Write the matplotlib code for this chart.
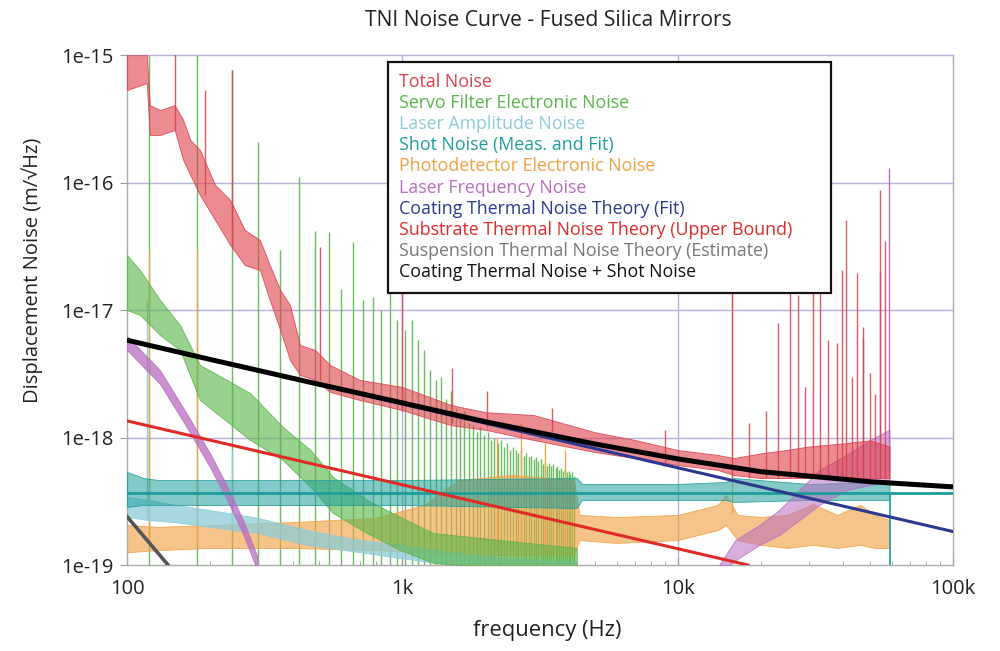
import matplotlib
matplotlib.use("Agg")
import matplotlib.pyplot as plt
from matplotlib.patches import Rectangle
from matplotlib.colors import to_rgba

plt.rcParams['font.family'] = ['Open Sans', 'DejaVu Sans']

# ---------------- data ----------------
# Total noise (red, noisy): frequency, lower / upper envelope
f_total = [100, 118, 121, 132, 149, 160, 170, 184, 209, 237, 268, 304, 330, 360, 391, 425,
           483, 546, 700, 1000, 1500, 2000, 3000, 5000, 7000, 10000, 14000, 16000, 20000,
           25000, 30000, 40000, 50000, 58800]
total_hi = [1.31e-15, 1.0e-15, 4.05e-16, 3.70e-16, 4.05e-16, 3.09e-16, 2.15e-16, 1.80e-16,
            9.56e-17, 7.29e-17, 4.24e-17, 3.54e-17, 2.25e-17, 1.44e-17, 1.09e-17, 5.31e-18,
            4.85e-18, 3.71e-18, 2.83e-18, 2.49e-18, 1.80e-18, 1.58e-18, 1.50e-18, 1.10e-18,
            9.56e-19, 7.98e-19, 7.29e-19, 6.90e-19, 7.5e-19, 8.0e-19, 8.5e-19, 9.0e-19,
            9.5e-19, 8.5e-19]
total_lo = [5.31e-16, 6.03e-16, 2.36e-16, 2.36e-16, 2.58e-16, 1.50e-16, 1.14e-16, 7.98e-17,
            5.08e-17, 3.24e-17, 2.25e-17, 2.06e-17, 1.20e-17, 6.97e-18, 4.05e-18, 3.09e-18,
            2.83e-18, 2.28e-18, 1.97e-18, 1.64e-18, 1.25e-18, 1.15e-18, 9.56e-19, 7.69e-19,
            6.90e-19, 6.09e-19, 5.56e-19, 5.08e-19, 4.81e-19, 4.81e-19, 4.81e-19, 4.81e-19,
            4.81e-19, 4.81e-19]
total_spike_f = [149, 192, 240, 502, 1000, 1516, 2031, 3499, 9000,
                 15760, 18200, 21000, 23160, 25600, 27380, 29020, 31020, 32900, 35180, 37930,
                 39560, 40890, 42800, 44840, 47150, 49990, 52000, 54350, 56680]
total_spike_top = [1.3e-15, 5.3e-16, 7.6e-16, 3.1e-17, 1.45e-17, 3.5e-18, 2.3e-18, 1.7e-18, 1.15e-18,
                   1.4e-17, 1.3e-18, 1.6e-18, 7.9e-18, 2.0e-17, 1.3e-17, 2.5e-18, 2.0e-17, 2.0e-17,
                   5.8e-18, 5.5e-18, 2.06e-17, 5.08e-17, 3.0e-18, 1.95e-17, 7.3e-18, 3.2e-18,
                   2.2e-18, 8.7e-17, 3.5e-17]
total_spike_base = [2.6e-16, 8e-17, 3.2e-17, 2.8e-18, 1.6e-18, 1.3e-18, 1.2e-18, 9.6e-19, 6e-19,
                    4.8e-19, 4.8e-19, 4.8e-19, 4.8e-19, 4.8e-19, 4.8e-19, 4.8e-19, 4.8e-19,
                    4.8e-19, 4.8e-19, 4.8e-19, 4.8e-19, 4.8e-19, 4.8e-19, 4.8e-19, 4.8e-19,
                    4.8e-19, 4.8e-19, 4.8e-19, 4.8e-19]

# Servo filter electronic noise (green)
f_servo = [100, 111.5, 131.7, 155.8, 184, 280, 368, 464, 560, 744, 982, 1295, 2255, 4300]
servo_hi = [2.70e-17, 2.06e-17, 1.20e-17, 7.62e-18, 3.71e-18, 2.23e-18, 1.21e-18, 7.98e-19,
            4.90e-19, 3.24e-19, 2.38e-19, 1.78e-19, 1.57e-19, 1.36e-19]
servo_lo = [1.0e-17, 9.14e-18, 6.37e-18, 4.85e-18, 1.97e-18, 9.56e-19, 6.66e-19, 4.09e-19,
            2.56e-19, 1.78e-19, 1.31e-19, 1.04e-19, 9.47e-20, 9.14e-20]
# 60 Hz harmonic lines of the servo noise
servo_spike_f = [120, 180, 240, 300, 360, 420, 480, 540, 600, 660, 720, 780, 840, 900, 960,
                 1020, 1080, 1140, 1200, 1260, 1320, 1380, 1440, 1500, 1560, 1620, 1680, 1740,
                 1800, 1860, 1920, 1980, 2040, 2100, 2160, 2220, 2280, 2340, 2400, 2460, 2520,
                 2580, 2640, 2700, 2760, 2820, 2880, 2940, 3000, 3060, 3120, 3180, 3240, 3300,
                 3360, 3420, 3480, 3540, 3600, 3660, 3720, 3780, 3840, 3900, 3960, 4020, 4080,
                 4140, 4200]
servo_spike_top = [1.2e-15, 1.2e-15, 7.6e-16, 2.08e-16, 2.95e-17, 1.1e-16, 4.2e-17, 4.1e-17,
                   1.45e-17, 3.4e-17, 1.2e-17, 1.26e-17, 1.0e-17, 1.45e-17, 8.4e-18, 7.0e-18,
                   8.4e-18, 5.8e-18, 4.9e-18, 3.4e-18, 2.8e-18, 3.0e-18, 2.0e-18, 2.3e-18,
                   1.7e-18, 1.5e-18, 1.6e-18, 1.3e-18, 1.25e-18, 1.1e-18, 1.2e-18, 1.05e-18,
                   1.1e-18, 9.5e-19, 1.0e-18, 9.0e-19, 9.5e-19, 8.5e-19, 9.0e-19, 8.0e-19,
                   8.5e-19, 8.0e-19, 7.5e-19, 8.0e-19, 7.2e-19, 7.5e-19, 7.0e-19, 7.2e-19,
                   6.8e-19, 7.0e-19, 6.5e-19, 6.8e-19, 6.2e-19, 6.6e-19, 6.0e-19, 6.3e-19,
                   6.0e-19, 6.2e-19, 5.8e-19, 6.0e-19, 5.6e-19, 5.8e-19, 5.5e-19, 5.7e-19,
                   5.4e-19, 5.5e-19, 5.2e-19, 5.4e-19, 5.0e-19]

# Laser amplitude noise (light cyan)
f_amp = [100, 120, 150, 200, 300, 450, 700, 1000, 1500, 2500, 4300]
amp_hi = [3.41e-19, 3.24e-19, 2.96e-19, 2.70e-19, 2.34e-19, 1.88e-19, 1.57e-19, 1.44e-19,
          1.26e-19, 1.13e-19, 1.06e-19]
amp_lo = [2.38e-19, 2.25e-19, 2.17e-19, 1.99e-19, 1.78e-19, 1.44e-19, 1.26e-19, 1.13e-19,
          1.0e-19, 9.5e-20, 9.1e-20]
amp_spike_f = [118, 240]
amp_spike_top = [1.2e-17, 8.0e-19]
amp_spike_base = [2.3e-19, 2.0e-19]

# Shot noise, measured (teal) and fit
f_shot = [100, 115, 130, 300, 1000, 4300, 4500, 10000, 15000, 16000, 30000, 58800]
shot_hi = [5.36e-19, 4.81e-19, 4.64e-19, 4.64e-19, 4.64e-19, 4.81e-19, 4.32e-19, 4.32e-19,
           4.48e-19, 4.81e-19, 4.32e-19, 4.48e-19]
shot_lo = [2.85e-19, 2.96e-19, 2.96e-19, 2.96e-19, 2.96e-19, 2.80e-19, 3.24e-19, 3.24e-19,
           3.24e-19, 3.12e-19, 3.24e-19, 3.24e-19]
shot_spike_f = [58800]
shot_spike_top = [3.67e-19]
shot_spike_base = [9.0e-20]
f_shot_fit = [100, 100000]
shot_fit = [3.67e-19, 3.67e-19]

# Photodetector electronic noise (orange)
f_pd = [100, 130, 200, 400, 800, 1200, 1600, 2500, 4200, 4400, 6000, 10000, 14000, 15000,
        16500, 20000, 25000, 31000, 38000, 46000, 52000, 58800]
pd_hi = [2.06e-19, 1.99e-19, 2.06e-19, 2.17e-19, 2.34e-19, 2.96e-19, 4.64e-19, 5.08e-19,
         4.64e-19, 2.47e-19, 2.38e-19, 2.47e-19, 2.96e-19, 3.54e-19, 2.47e-19, 2.38e-19,
         2.47e-19, 3.0e-19, 2.47e-19, 2.96e-19, 2.47e-19, 2.25e-19]
pd_lo = [1.26e-19, 1.31e-19, 1.36e-19, 1.36e-19, 1.31e-19, 1.26e-19, 1.20e-19, 1.20e-19,
         1.20e-19, 1.57e-19, 1.49e-19, 1.57e-19, 1.88e-19, 2.06e-19, 1.57e-19, 1.44e-19,
         1.36e-19, 1.44e-19, 1.36e-19, 1.44e-19, 1.36e-19, 1.36e-19]
pd_spike_f = [120, 180, 2200, 2700, 3300, 3900, 15760]
pd_spike_top = [2.9e-17, 3.0e-17, 1.0e-18, 1.3e-18, 9.0e-19, 8.0e-19, 1.5e-17]
pd_spike_base = [1.4e-19, 1.4e-19, 1.3e-19, 1.3e-19, 1.3e-19, 1.3e-19, 2.5e-19]

# Laser frequency noise (purple): low-frequency part and high-frequency part
f_lfn_low = [100, 131.7, 167, 200, 231, 264, 297]
lfn_low_hi = [6.25e-18, 3.38e-18, 1.47e-18, 7.56e-19, 4.17e-19, 2.25e-19, 1.18e-19]
lfn_low_lo = [4.85e-18, 2.63e-18, 1.15e-18, 5.87e-19, 3.24e-19, 1.75e-19, 9.14e-20]
f_lfn_high = [14150, 16200, 19800, 23400, 27650, 32700, 41000, 50000, 58800]
lfn_high_hi = [1.0e-19, 1.57e-19, 2.06e-19, 2.70e-19, 3.87e-19, 5.56e-19, 7.29e-19, 9.56e-19, 1.15e-18]
lfn_high_lo = [8.35e-20, 1.09e-19, 1.44e-19, 1.72e-19, 2.25e-19, 2.96e-19, 3.87e-19, 4.24e-19, 4.64e-19]
lfn_spike_f = [47150, 54350, 58600]
lfn_spike_top = [6.0e-18, 2.0e-17, 1.3e-16]
lfn_spike_base = [5.0e-19, 5.0e-19, 5.0e-19]

# Theory curves
f_coating = [100, 100000]
coating = [5.8e-18, 1.83e-19]
f_substrate = [100, 18000]
substrate = [1.35e-18, 1.0e-19]
f_susp = [100, 141]
suspension = [2.4e-19, 1.0e-19]
f_sum = [100, 200, 500, 1000, 2000, 5000, 10000, 20000, 50000, 100000]
coating_plus_shot = [5.8e-18, 4.1e-18, 2.61e-18, 1.87e-18, 1.33e-18, 8.9e-19, 6.8e-19,
                     5.4e-19, 4.5e-19, 4.1e-19]

legend_labels = ['Total Noise', 'Servo Filter Electronic Noise', 'Laser Amplitude Noise',
                 'Shot Noise (Meas. and Fit)', 'Photodetector Electronic Noise',
                 'Laser Frequency Noise', 'Coating Thermal Noise Theory (Fit)',
                 'Substrate Thermal Noise Theory (Upper Bound)',
                 'Suspension Thermal Noise Theory (Estimate)',
                 'Coating Thermal Noise + Shot Noise']
x_ticks = [100, 1000, 10000, 100000]
x_tick_labels = ['100', '1k', '10k', '100k']
y_ticks = [1e-19, 1e-18, 1e-17, 1e-16, 1e-15]
y_tick_labels = ['1e-19', '1e-18', '1e-17', '1e-16', '1e-15']

# ---------------- colours ----------------
C_TOTAL = '#dc3f4a'
C_SERVO = '#5ab54a'
C_AMP = '#8ccbd8'
C_SHOT = '#1c9e9c'
C_PD = '#f0a042'
C_LFN = '#b86cc0'
C_COAT = '#2b3990'
C_SUB = '#e02a26'
C_SUSP = '#555555'
C_SUM = '#000000'
legend_colors = [C_TOTAL, C_SERVO, C_AMP, C_SHOT, C_PD, C_LFN, C_COAT, C_SUB, '#777777', '#111111']

# ---------------- figure ----------------
fig = plt.figure(figsize=(10, 6.51), dpi=100)
ax = fig.add_axes([0.127, 0.1321, 0.826, 0.7834])
ax.set_xscale('log')
ax.set_yscale('log')
ax.set_xlim(100, 100000)
ax.set_ylim(1e-19, 1e-15)
ybot = ax.get_ylim()[0]

grid_c = '#b6b0dc'
for xv in [1000, 10000]:
    ax.axvline(xv, color=grid_c, lw=1.0, zorder=0)
for yv in [1e-18, 1e-17, 1e-16]:
    ax.axhline(yv, color=grid_c, lw=1.0, zorder=0)


def band(f, lo, hi, color, z=2, alpha=0.62):
    # noisy trace rendered as its envelope band
    ax.fill_between(f, lo, hi, facecolor=to_rgba(color, alpha),
                    edgecolor=to_rgba(color, 0.9), lw=0.6, zorder=z)


# servo harmonic lines (behind everything)
ax.vlines(servo_spike_f, ybot, servo_spike_top, color=C_SERVO, lw=1.0, alpha=0.9, zorder=1)
ax.vlines(amp_spike_f, amp_spike_base, amp_spike_top, color=C_AMP, lw=1.0, zorder=1)
ax.vlines(pd_spike_f, pd_spike_base, pd_spike_top, color=C_PD, lw=0.9, zorder=1)

band(f_pd, pd_lo, pd_hi, C_PD, 2)
band(f_amp, amp_lo, amp_hi, C_AMP, 2, 0.75)
band(f_servo, servo_lo, servo_hi, C_SERVO, 3)
band(f_shot, shot_lo, shot_hi, C_SHOT, 3, 0.55)
ax.vlines(shot_spike_f, shot_spike_base, shot_spike_top, color=C_SHOT, lw=1.2, zorder=3)
band(f_lfn_low, lfn_low_lo, lfn_low_hi, C_LFN, 3, 0.75)
band(f_lfn_high, lfn_high_lo, lfn_high_hi, C_LFN, 3, 0.55)
ax.vlines(lfn_spike_f, lfn_spike_base, lfn_spike_top, color=C_LFN, lw=1.0, zorder=3)
band(f_total, total_lo, total_hi, C_TOTAL, 4, 0.6)
ax.vlines(total_spike_f, total_spike_base, total_spike_top, color=C_TOTAL, lw=1.0, alpha=0.85, zorder=4)

ax.plot(f_shot_fit, shot_fit, color=C_SHOT, lw=2.0, zorder=6)
ax.plot(f_substrate, substrate, color=C_SUB, lw=2.2, zorder=6)
ax.plot(f_susp, suspension, color=C_SUSP, lw=2.6, zorder=6)
ax.plot(f_coating, coating, color=C_COAT, lw=2.2, zorder=7)
ax.plot(f_sum, coating_plus_shot, color=C_SUM, lw=3.6, zorder=8, solid_capstyle='butt')

# axes styling
for s in ax.spines.values():
    s.set_color('#aaaaaa')
    s.set_linewidth(1.0)
ax.spines['top'].set_color(grid_c)
ax.set_xticks(x_ticks)
ax.set_xticklabels(x_tick_labels)
ax.set_yticks(y_ticks)
ax.set_yticklabels(y_tick_labels)
ax.minorticks_on()
ax.yaxis.set_minor_locator(matplotlib.ticker.NullLocator())
ax.tick_params(axis='x', which='major', direction='in', length=5, color='#999999',
               labelsize=14.5, pad=10, labelcolor='#222222')
ax.tick_params(axis='x', which='minor', direction='in', length=3, color='#999999')
ax.tick_params(axis='y', which='major', direction='out', length=5, color='#999999',
               labelsize=14.5, pad=5, labelcolor='#222222')

# legend (coloured text in a framed box)
ax.add_patch(Rectangle((0.316, 0.533), 0.536, 0.453, transform=ax.transAxes,
                       facecolor='white', edgecolor='#111111', lw=1.6, zorder=20))
for i, (lab, col) in enumerate(zip(legend_labels, legend_colors)):
    ax.text(0.3293, (565 - (82 + 21.1 * i)) / 510, lab, transform=ax.transAxes,
            color=col, fontsize=12.8, va='center', ha='left', zorder=21)

fig.text(0.548, 0.969, 'TNI Noise Curve - Fused Silica Mirrors', ha='center', va='center',
         fontsize=15.2, color='#222222')
fig.text(0.547, 0.032, 'frequency (Hz)', ha='center', va='center', fontsize=15.8, color='#222222')
fig.text(0.032, 0.585, 'Displacement Noise (m/\u221aHz)', ha='center', va='center',
         rotation=90, fontsize=14.5, color='#222222')

fig.savefig('out.png', dpi=100)
